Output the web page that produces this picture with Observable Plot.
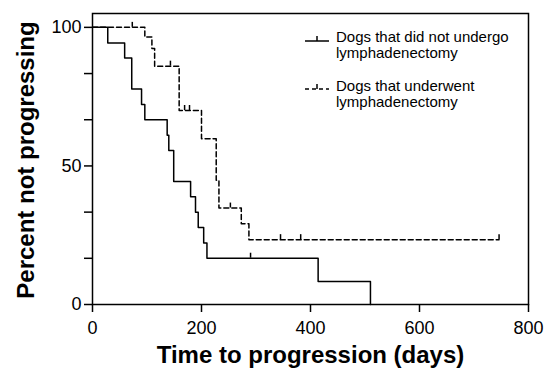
<!DOCTYPE html>
<html><head><meta charset="utf-8">
<script src="https://cdn.jsdelivr.net/npm/d3@7"></script>
<script src="https://cdn.jsdelivr.net/npm/@observablehq/plot@0.6"></script>
<style>
html,body{margin:0;padding:0;background:#fff;}
#chart{width:550px;height:374px;}
</style></head><body><div id="chart"></div>
<script>
// Dogs that did not undergo lymphadenectomy (solid)
const noLymphDays = [0, 28, 59, 72, 90, 96, 137, 140, 149, 180, 189, 194, 204, 210, 414, 510];
const noLymphPct  = [100, 94.4, 88.9, 77.8, 72.2, 66.7, 61.1, 55.6, 44.4, 38.9, 33.3, 27.8, 22.2, 16.7, 8.3, 0];
const noLymphCensorDays = [290];
const noLymphCensorPct  = [16.7];
// Dogs that underwent lymphadenectomy (dashed)
const lymphDays = [0, 96, 109, 114, 159, 200, 227, 232, 273, 287, 746];
const lymphPct  = [100, 96.5, 92.4, 86.0, 70.0, 59.8, 44.8, 34.8, 29.1, 23.4, 23.4];
const lymphCensorDays = [73, 143, 169, 178, 253, 345, 382, 746];
const lymphCensorPct  = [100, 86.0, 70.0, 70.0, 34.8, 23.4, 23.4, 23.4];
// Axes
const xTicks = [0, 200, 400, 600, 800];
const yTicks = [0, 16.67, 33.33, 50, 66.67, 83.33, 100];
const yTickLabels = {0: "0", 50: "50", 100: "100"};
const xLabel = "Time to progression (days)";
const yLabel = "Percent not progressing";
const legendLines = [["Dogs that did not undergo", "lymphadenectomy"], ["Dogs that underwent", "lymphadenectomy"]];

const solid = noLymphDays.map((d, i) => ({day: d, pct: noLymphPct[i]}));
const dashed = lymphDays.map((d, i) => ({day: d, pct: lymphPct[i]}));
const solidC = noLymphCensorDays.map((d, i) => ({day: d, pct: noLymphCensorPct[i]}));
const dashedC = lymphCensorDays.map((d, i) => ({day: d, pct: lymphCensorPct[i]}));

const FONT = "'Liberation Sans', Arial, Helvetica, sans-serif";
const TICKH = 1.8;

const plot = Plot.plot({
  width: 550,
  height: 374,
  marginLeft: 92,
  marginRight: 22,
  marginTop: 13,
  marginBottom: 70,
  style: {fontFamily: FONT, fontSize: "18px", color: "black", background: "white"},
  x: {domain: [0, 800]},
  y: {domain: [0, 105]},
  marks: [
    Plot.axisX(xTicks, {tickSize: 8, tickPadding: 9, strokeWidth: 1.5, label: null, fontSize: 18}),
    Plot.axisY(yTicks, {tickSize: 8, tickPadding: 3, strokeWidth: 1.5, label: null, fontSize: 18,
      tickFormat: d => yTickLabels[d] ?? ""}),
    Plot.frame({stroke: "black", strokeWidth: 1.5}),
    Plot.line(solid, {x: "day", y: "pct", curve: "step-after", stroke: "black", strokeWidth: 1.5}),
    Plot.line(dashed, {x: "day", y: "pct", curve: "step-after", stroke: "black", strokeWidth: 1.5, strokeDasharray: "5,3"}),
    Plot.ruleX(solidC, {x: "day", y1: "pct", y2: d => d.pct + TICKH, stroke: "black", strokeWidth: 1.5}),
    Plot.ruleX(dashedC, {x: "day", y1: "pct", y2: d => d.pct + TICKH, stroke: "black", strokeWidth: 1.5}),
    Plot.text([yLabel], {frameAnchor: "left", textAnchor: "middle", dx: -66, dy: 1, rotate: -90, fontSize: 24, fontWeight: "bold", fill: "black"}),
    Plot.text([xLabel], {frameAnchor: "bottom", textAnchor: "middle", dy: 58, fontSize: 24, fontWeight: "bold", fill: "black"})
  ]
});

document.getElementById("chart").appendChild(plot);

// Legend
const svg = d3.select(plot);
const leg = svg.append("g").attr("font-family", FONT).attr("font-size", 15)
  .attr("fill", "black").attr("text-anchor", "start");
const entries = [
  {y: 41, dash: null, textY: 42},
  {y: 89, dash: "4,3", textY: 91}
];
entries.forEach((e, i) => {
  leg.append("line").attr("x1", 305).attr("x2", 329).attr("y1", e.y).attr("y2", e.y)
    .attr("stroke", "black").attr("stroke-width", 1.5).attr("stroke-dasharray", e.dash);
  leg.append("line").attr("x1", 317).attr("x2", 317).attr("y1", e.y).attr("y2", e.y - 5)
    .attr("stroke", "black").attr("stroke-width", 1.5);
  legendLines[i].forEach((t, j) => {
    leg.append("text").attr("x", 336).attr("y", e.textY + j * 16).text(t);
  });
});
</script></body></html>
